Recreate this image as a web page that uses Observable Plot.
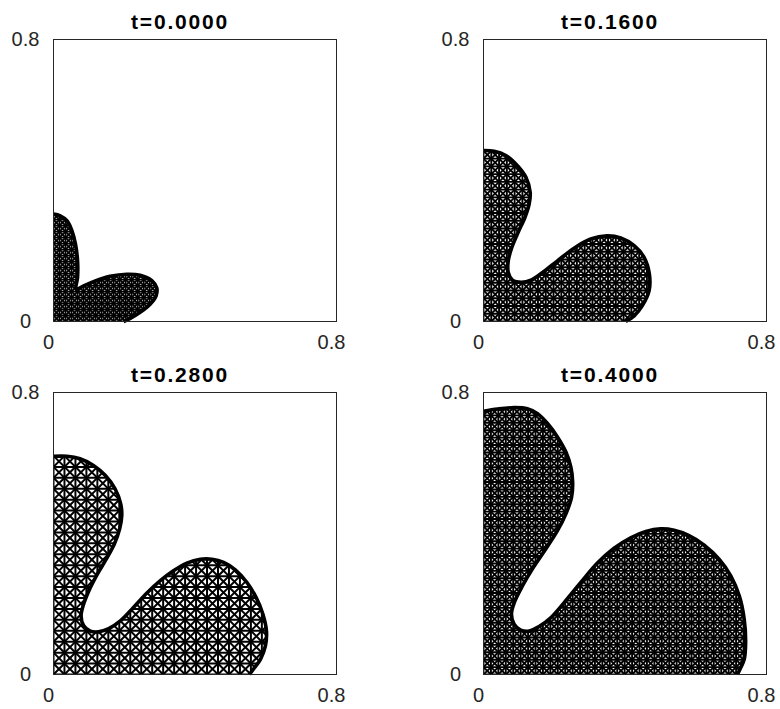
<!DOCTYPE html>
<html>
<head>
<meta charset="utf-8">
<script src="https://cdn.jsdelivr.net/npm/d3@7"></script>
<script src="https://cdn.jsdelivr.net/npm/@observablehq/plot@0.6"></script>
<style>
  body { margin: 0; background: #fff; }
  #fig { position: relative; width: 780px; height: 709px; background: #fff; overflow: hidden; }
  #fig svg { position: absolute; overflow: visible; }
</style>
</head>
<body>
<div id="fig"></div>
<script>
// ---- data ----
const titles = ["t=0.0000", "t=0.1600", "t=0.2800", "t=0.4000"];
const tickValues = [0, 0.8];
const tickLabels = ["0", "0.8"];
const meshSpacing = [0.017, 0.022, 0.031, 0.021];
const meshWidth = [1.8, 1.9, 2.0, 1.9];

// free-surface boundary of the domain, one per panel (x, y)
const b0x = [0, 0.019, 0.038, 0.052, 0.062, 0.068, 0.068, 0.064, 0.085, 0.113, 0.160, 0.207, 0.245, 0.278, 0.292, 0.290, 0.273, 0.245, 0.217, 0.198];
const b0y = [0.305, 0.300, 0.286, 0.258, 0.220, 0.172, 0.125, 0.092, 0.101, 0.113, 0.128, 0.134, 0.131, 0.116, 0.095, 0.073, 0.049, 0.026, 0.009, 0];

const b1x = [0, 0.030, 0.063, 0.096, 0.120, 0.132, 0.129, 0.117, 0.098, 0.080, 0.070, 0.070, 0.082, 0.107, 0.134, 0.167, 0.209, 0.256, 0.303, 0.349, 0.388, 0.426, 0.454, 0.469, 0.468, 0.449, 0.426, 0.402];
const b1y = [0.485, 0.483, 0.471, 0.442, 0.409, 0.366, 0.333, 0.295, 0.253, 0.210, 0.172, 0.139, 0.117, 0.111, 0.117, 0.139, 0.172, 0.208, 0.234, 0.243, 0.237, 0.215, 0.182, 0.134, 0.087, 0.045, 0.016, 0];

const b2x = [0, 0.038, 0.075, 0.113, 0.146, 0.174, 0.190, 0.193, 0.187, 0.172, 0.149, 0.124, 0.102, 0.085, 0.078, 0.085, 0.104, 0.127, 0.156, 0.189, 0.226, 0.264, 0.302, 0.339, 0.377, 0.415, 0.448, 0.481, 0.514, 0.547, 0.573, 0.592, 0.602, 0.599, 0.585, 0.568, 0.554];
const b2y = [0.619, 0.619, 0.612, 0.593, 0.565, 0.527, 0.484, 0.451, 0.413, 0.370, 0.327, 0.285, 0.242, 0.199, 0.166, 0.139, 0.123, 0.121, 0.130, 0.152, 0.190, 0.231, 0.266, 0.294, 0.316, 0.327, 0.327, 0.318, 0.297, 0.261, 0.218, 0.171, 0.123, 0.081, 0.043, 0.019, 0];

const b3x = [0, 0.040, 0.087, 0.124, 0.153, 0.181, 0.209, 0.233, 0.247, 0.252, 0.249, 0.233, 0.209, 0.176, 0.141, 0.110, 0.087, 0.079, 0.087, 0.105, 0.129, 0.157, 0.190, 0.228, 0.275, 0.322, 0.369, 0.416, 0.459, 0.501, 0.539, 0.581, 0.624, 0.666, 0.699, 0.723, 0.737, 0.741, 0.737, 0.727, 0.718];
const b3y = [0.747, 0.753, 0.757, 0.754, 0.740, 0.712, 0.674, 0.631, 0.588, 0.546, 0.503, 0.456, 0.408, 0.356, 0.304, 0.251, 0.204, 0.171, 0.142, 0.126, 0.123, 0.136, 0.161, 0.204, 0.261, 0.316, 0.358, 0.388, 0.406, 0.413, 0.409, 0.394, 0.367, 0.327, 0.280, 0.223, 0.157, 0.090, 0.043, 0.019, 0];

const boundaries = [[b0x, b0y], [b1x, b1y], [b2x, b2y], [b3x, b3y]];

// panel placement
const panels = [
  {left: 0,   top: 0,   ml: 53, mr: 54},
  {left: 390, top: 0,   ml: 93, mr: 14},
  {left: 0,   top: 353, ml: 53, mr: 54},
  {left: 390, top: 353, ml: 93, mr: 14}
];

// structured criss-cross mesh lines (squares with both diagonals)
function meshSegments(h) {
  const L = 0.8, n = Math.ceil(L / h), segs = [];
  for (let k = 0; k <= n; k++) {
    const v = k * h;
    if (v <= L) {
      segs.push({x1: 0, y1: v, x2: L, y2: v});
      segs.push({x1: v, y1: 0, x2: v, y2: L});
    }
  }
  for (let k = -n; k <= n; k++) { // x - y = c
    const c = k * h;
    if (c >= 0) segs.push({x1: c, y1: 0, x2: L, y2: L - c});
    else segs.push({x1: 0, y1: -c, x2: L + c, y2: L});
  }
  for (let k = 0; k <= 2 * n; k++) { // x + y = s
    const s = k * h;
    if (s <= L) segs.push({x1: s, y1: 0, x2: 0, y2: s});
    else if (s < 2 * L) segs.push({x1: L, y1: s - L, x2: s - L, y2: L});
  }
  return segs;
}

const fig = document.getElementById("fig");
const FONT = "'Liberation Sans', Arial, Helvetica, sans-serif";

panels.forEach((p, i) => {
  const [bx, by] = boundaries[i];
  const boundary = bx.map((x, j) => ({x, y: by[j]}));
  const ticks = tickValues.map((v, j) => ({v, label: tickLabels[j]}));
  const plot = Plot.plot({
    width: 390,
    height: 356,
    marginLeft: p.ml,
    marginRight: p.mr,
    marginTop: 39,
    marginBottom: 35,
    style: {fontFamily: FONT, background: "transparent", overflow: "visible"},
    x: {domain: [0, 0.8], axis: null},
    y: {domain: [0, 0.8], axis: null},
    marks: [
      Plot.link(meshSegments(meshSpacing[i]), {x1: "x1", y1: "y1", x2: "x2", y2: "y2", stroke: "black", strokeWidth: meshWidth[i], ariaDescription: "mesh"}),
      Plot.line(boundary, {x: "x", y: "y", curve: "catmull-rom", stroke: "black", strokeWidth: 3.6, strokeLinecap: "butt", ariaDescription: "boundary"}),
      Plot.frame({stroke: "#262626", strokeWidth: 1}),
      Plot.text(ticks, {x: "v", text: "label", frameAnchor: "bottom", dy: 21.5, dx: -5, fontSize: 20, fill: "#262626", lineAnchor: "middle"}),
      Plot.text(ticks, {y: "v", text: "label", frameAnchor: "left", dx: -28, textAnchor: "middle", fontSize: 20, fill: "#262626", lineAnchor: "middle"}),
      Plot.text([titles[i]], {text: d => d, frameAnchor: "top", dy: -10.7, dx: -15, lineAnchor: "bottom", fontSize: 21, fontWeight: "bold", fill: "black", ariaDescription: "title"})
    ]
  });
  plot.style.left = p.left + "px";
  plot.style.top = p.top + "px";

  // clip the mesh to the domain (boundary curve closed along the axes)
  const sx = plot.scale("x"), sy = plot.scale("y");
  const bPath = plot.querySelector('g[aria-description="boundary"] path');
  const meshG = plot.querySelector('g[aria-description="mesh"]');
  if (bPath && meshG) {
    const ns = "http://www.w3.org/2000/svg";
    const d = bPath.getAttribute("d") + `L${sx.apply(0)},${sy.apply(0)}Z`;
    const defs = document.createElementNS(ns, "defs");
    const cp = document.createElementNS(ns, "clipPath");
    cp.setAttribute("id", "domclip" + i);
    const cpath = document.createElementNS(ns, "path");
    cpath.setAttribute("d", d);
    const tr = bPath.parentNode.getAttribute("transform");
    if (tr) cpath.setAttribute("transform", tr);
    cp.appendChild(cpath);
    defs.appendChild(cp);
    plot.insertBefore(defs, plot.firstChild);
    const wrap = document.createElementNS(ns, "g");
    wrap.setAttribute("clip-path", `url(#domclip${i})`);
    meshG.parentNode.insertBefore(wrap, meshG);
    wrap.appendChild(meshG);
  }
  plot.querySelectorAll('g[aria-description="title"] text').forEach(t => t.style.letterSpacing = "1.8px");
  fig.appendChild(plot);
});
</script>
</body>
</html>
